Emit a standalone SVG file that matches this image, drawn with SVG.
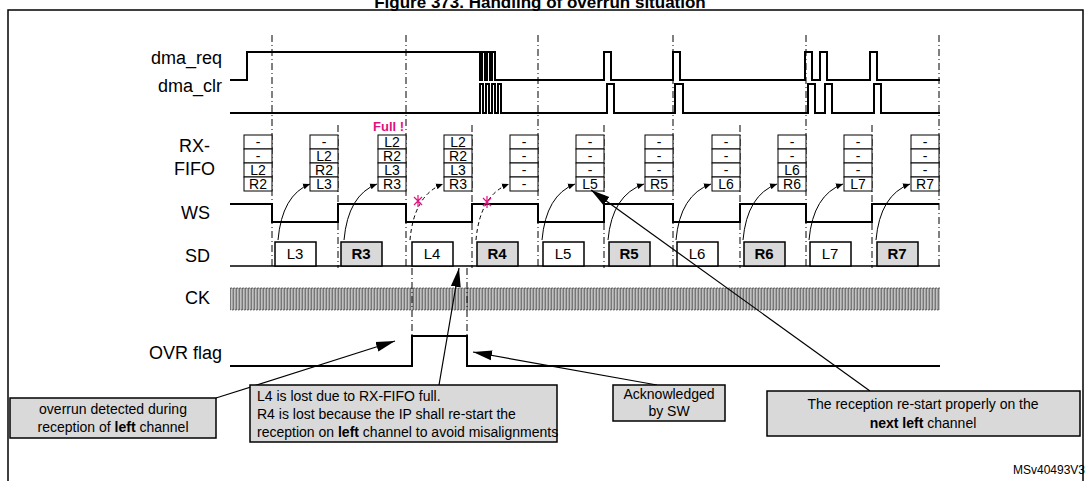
<svg xmlns="http://www.w3.org/2000/svg" width="1087" height="481" viewBox="0 0 1087 481">
<style>
text{font-family:"Liberation Sans",Arial,sans-serif;fill:#000}
.lbl{font-size:18px;text-anchor:end}
.sig{fill:none;stroke:#000;stroke-width:2}
.dd{stroke:#000;stroke-width:1;stroke-dasharray:7,3,1,3;fill:none}
.cell{fill:#fff;stroke:#000;stroke-width:1}
.ct{font-size:14px;text-anchor:middle}
.sd{fill:#fff;stroke:#000;stroke-width:1.5}
.sdr{fill:#d9d9d9;stroke:#000;stroke-width:1.5}
.st{font-size:15px;text-anchor:middle}
.ann{fill:#d9d9d9;stroke:#000;stroke-width:1.5}
.at{font-size:14px}
.ar{fill:none;stroke:#000;stroke-width:1}
.ln{stroke:#000;stroke-width:1.2;fill:none}
.x{stroke:#e0107f;stroke-width:1.2}
</style>
<defs>
<marker id="a" markerWidth="8" markerHeight="8" refX="7" refY="4" orient="auto" markerUnits="userSpaceOnUse"><path d="M0,1 L7,4 L0,7 Z" fill="#000"/></marker>
<marker id="b" markerWidth="20" markerHeight="12" refX="19" refY="6" orient="auto" markerUnits="userSpaceOnUse"><path d="M0,1 L19,6 L0,11 Z" fill="#000"/></marker>
<pattern id="ck" x="230" y="287" width="3" height="24" patternUnits="userSpaceOnUse"><path d="M0,23 H0.4 V1 H2.1 V23 H3" fill="none" stroke="#000" stroke-width="0.6"/></pattern>
</defs>
<text x="540" y="8" font-size="17" font-weight="bold" text-anchor="middle">Figure 373. Handling of overrun situation</text>
<path d="M8,481 V10 H1083 V481" fill="none" stroke="#000" stroke-width="1.5"/>
<g id="labels">
<text class="lbl" x="222" y="64">dma_req</text>
<text class="lbl" x="222" y="92">dma_clr</text>
<text class="lbl" x="210" y="152">RX-</text>
<text class="lbl" x="215" y="175">FIFO</text>
<text class="lbl" x="210" y="219">WS</text>
<text class="lbl" x="210" y="262">SD</text>
<text class="lbl" x="210" y="304">CK</text>
<text class="lbl" x="222" y="359">OVR flag</text>
</g>
<g id="grid">
<path class="dd" d="M272,35V268M406,35V268M538,35V268M673,35V268M806,35V268M939,35V268"/>
<path class="dd" d="M338,125V268M472,125V268M604,125V268M740,125V268M872,125V268"/>
<path class="dd" d="M412,268V345M467,268V345"/>
</g>
<g id="dma_req"><path class="sig" d="M230,80H247V52H480V80H482V52H485V80H487V52H490V80H492V52H495V80H604V52H611V80H673V52H680V80H805V52H812V80H820V52H827V80H870V52H877V80H940"/></g>
<g id="dma_clr"><path class="sig" d="M230,113H480V84H483V113H486V84H489V113H492V84H495V113H498V84H501V113H607V84H614V113H675V84H683V113H808V84H815V113H825V84H832V113H874V84H881V113H940"/></g>
<g id="ws"><path class="sig" d="M230,204H272V222H338V204H406V222H472V204H538V222H604V204H673V222H740V204H806V222H872V204H939"/></g>
<g id="sd">
<path d="M230,266H940" stroke="#000" stroke-width="1.5"/>
<rect class="sd" x="275" y="242" width="41" height="24"/><text class="st" x="295" y="259">L3</text>
<rect class="sdr" x="341" y="242" width="41" height="24"/><text class="st" x="361" y="259" font-weight="bold">R3</text>
<rect class="sd" x="412" y="242" width="41" height="24"/><text class="st" x="432" y="259">L4</text>
<rect class="sdr" x="477" y="242" width="41" height="24"/><text class="st" x="497" y="259" font-weight="bold">R4</text>
<rect class="sd" x="543" y="242" width="41" height="24"/><text class="st" x="563" y="259">L5</text>
<rect class="sdr" x="609" y="242" width="41" height="24"/><text class="st" x="629" y="259" font-weight="bold">R5</text>
<rect class="sd" x="677" y="242" width="41" height="24"/><text class="st" x="697" y="259">L6</text>
<rect class="sdr" x="744" y="242" width="41" height="24"/><text class="st" x="764" y="259" font-weight="bold">R6</text>
<rect class="sd" x="810" y="242" width="41" height="24"/><text class="st" x="830" y="259">L7</text>
<rect class="sdr" x="877" y="242" width="41" height="24"/><text class="st" x="897" y="259" font-weight="bold">R7</text>
</g>
<g id="ck"><rect x="230" y="287" width="710" height="24" fill="url(#ck)"/></g>
<g id="ovr"><path class="sig" d="M230,366H412V336H467V366H940"/></g>
<g id="fifo">
<g transform="translate(244,135)"><rect class="cell" width="28" height="14"/><rect class="cell" y="14" width="28" height="14"/><rect class="cell" y="28" width="28" height="14"/><rect class="cell" y="42" width="28" height="14"/><text class="ct" x="14" y="12">-</text><text class="ct" x="14" y="26">-</text><text class="ct" x="14" y="40">L2</text><text class="ct" x="14" y="54">R2</text></g>
<g transform="translate(310,135)"><rect class="cell" width="28" height="14"/><rect class="cell" y="14" width="28" height="14"/><rect class="cell" y="28" width="28" height="14"/><rect class="cell" y="42" width="28" height="14"/><text class="ct" x="14" y="12">-</text><text class="ct" x="14" y="26">L2</text><text class="ct" x="14" y="40">R2</text><text class="ct" x="14" y="54">L3</text></g>
<g transform="translate(378,135)"><rect class="cell" width="28" height="14"/><rect class="cell" y="14" width="28" height="14"/><rect class="cell" y="28" width="28" height="14"/><rect class="cell" y="42" width="28" height="14"/><text class="ct" x="14" y="12">L2</text><text class="ct" x="14" y="26">R2</text><text class="ct" x="14" y="40">L3</text><text class="ct" x="14" y="54">R3</text></g>
<g transform="translate(444,135)"><rect class="cell" width="28" height="14"/><rect class="cell" y="14" width="28" height="14"/><rect class="cell" y="28" width="28" height="14"/><rect class="cell" y="42" width="28" height="14"/><text class="ct" x="14" y="12">L2</text><text class="ct" x="14" y="26">R2</text><text class="ct" x="14" y="40">L3</text><text class="ct" x="14" y="54">R3</text></g>
<g transform="translate(510,135)"><rect class="cell" width="28" height="14"/><rect class="cell" y="14" width="28" height="14"/><rect class="cell" y="28" width="28" height="14"/><rect class="cell" y="42" width="28" height="14"/><text class="ct" x="14" y="12">-</text><text class="ct" x="14" y="26">-</text><text class="ct" x="14" y="40">-</text><text class="ct" x="14" y="54">-</text></g>
<g transform="translate(576,135)"><rect class="cell" width="28" height="14"/><rect class="cell" y="14" width="28" height="14"/><rect class="cell" y="28" width="28" height="14"/><rect class="cell" y="42" width="28" height="14"/><text class="ct" x="14" y="12">-</text><text class="ct" x="14" y="26">-</text><text class="ct" x="14" y="40">-</text><text class="ct" x="14" y="54">L5</text></g>
<g transform="translate(645,135)"><rect class="cell" width="28" height="14"/><rect class="cell" y="14" width="28" height="14"/><rect class="cell" y="28" width="28" height="14"/><rect class="cell" y="42" width="28" height="14"/><text class="ct" x="14" y="12">-</text><text class="ct" x="14" y="26">-</text><text class="ct" x="14" y="40">-</text><text class="ct" x="14" y="54">R5</text></g>
<g transform="translate(712,135)"><rect class="cell" width="28" height="14"/><rect class="cell" y="14" width="28" height="14"/><rect class="cell" y="28" width="28" height="14"/><rect class="cell" y="42" width="28" height="14"/><text class="ct" x="14" y="12">-</text><text class="ct" x="14" y="26">-</text><text class="ct" x="14" y="40">-</text><text class="ct" x="14" y="54">L6</text></g>
<g transform="translate(778,135)"><rect class="cell" width="28" height="14"/><rect class="cell" y="14" width="28" height="14"/><rect class="cell" y="28" width="28" height="14"/><rect class="cell" y="42" width="28" height="14"/><text class="ct" x="14" y="12">-</text><text class="ct" x="14" y="26">-</text><text class="ct" x="14" y="40">L6</text><text class="ct" x="14" y="54">R6</text></g>
<g transform="translate(844,135)"><rect class="cell" width="28" height="14"/><rect class="cell" y="14" width="28" height="14"/><rect class="cell" y="28" width="28" height="14"/><rect class="cell" y="42" width="28" height="14"/><text class="ct" x="14" y="12">-</text><text class="ct" x="14" y="26">-</text><text class="ct" x="14" y="40">-</text><text class="ct" x="14" y="54">L7</text></g>
<g transform="translate(911,135)"><rect class="cell" width="28" height="14"/><rect class="cell" y="14" width="28" height="14"/><rect class="cell" y="28" width="28" height="14"/><rect class="cell" y="42" width="28" height="14"/><text class="ct" x="14" y="12">-</text><text class="ct" x="14" y="26">-</text><text class="ct" x="14" y="40">-</text><text class="ct" x="14" y="54">R7</text></g>
<text x="373" y="131" font-size="13" font-weight="bold" style="fill:#e0107f">Full !</text>
</g>
<g id="connectors">
<path class="ar" d="M278,240 Q282,195 310,184" marker-end="url(#a)"/>
<path class="ar" d="M344,240 Q348,195 377,184" marker-end="url(#a)"/>
<path class="ar" d="M410,240 Q414,195 443,184" marker-end="url(#a)" stroke-dasharray="4,3"/>
<path class="ar" d="M476,240 Q480,195 509,184" marker-end="url(#a)" stroke-dasharray="4,3"/>
<path class="ar" d="M542,240 Q546,195 575,184" marker-end="url(#a)"/>
<path class="ar" d="M608,240 Q612,195 644,184" marker-end="url(#a)"/>
<path class="ar" d="M676,240 Q680,195 711,184" marker-end="url(#a)"/>
<path class="ar" d="M743,240 Q747,195 777,184" marker-end="url(#a)"/>
<path class="ar" d="M809,240 Q813,195 843,184" marker-end="url(#a)"/>
<path class="ar" d="M876,240 Q880,195 910,184" marker-end="url(#a)"/>
<path class="x" d="M414,197 l8,8 M422,197 l-8,8 M418,195 v12"/>
<path class="x" d="M483,198 l8,8 M491,198 l-8,8 M487,196 v12"/>
<path class="ln" d="M216,398 L395,341" marker-end="url(#b)"/>
<path class="ln" d="M439,385 L459,268" marker-end="url(#b)"/>
<path class="ln" d="M657,385 L473,352" marker-end="url(#b)"/>
<path class="ln" d="M870,391 L591,190" marker-end="url(#b)"/>
</g>
<g id="note1"><rect class="ann" x="10" y="398" width="206" height="40"/><text class="at" x="113" y="414" text-anchor="middle">overrun detected during</text><text class="at" x="113" y="432" text-anchor="middle">reception of <tspan font-weight="bold">left</tspan> channel</text></g>
<g id="note2"><rect class="ann" x="250" y="385" width="307" height="57"/><text class="at" x="257" y="401" font-size="13.5">L4 is lost due to RX-FIFO full.</text><text class="at" x="257" y="419" font-size="13.5">R4 is lost because the IP shall re-start the</text><text class="at" x="257" y="437" font-size="13.5">reception on <tspan font-weight="bold">left</tspan> channel to avoid misalignments</text></g>
<g id="note3"><rect class="ann" x="613" y="385" width="112" height="36"/><text class="at" x="669" y="399" text-anchor="middle">Acknowledged</text><text class="at" x="669" y="416" text-anchor="middle">by SW</text></g>
<g id="note4"><rect class="ann" x="767" y="391" width="313" height="45"/><text class="at" x="923" y="409" text-anchor="middle">The reception re-start properly on the</text><text class="at" x="923" y="428" text-anchor="middle" font-weight="bold">next left <tspan font-weight="normal">channel</tspan></text></g>
<text x="1085" y="474" font-size="12" text-anchor="end">MSv40493V3</text>
</svg>
